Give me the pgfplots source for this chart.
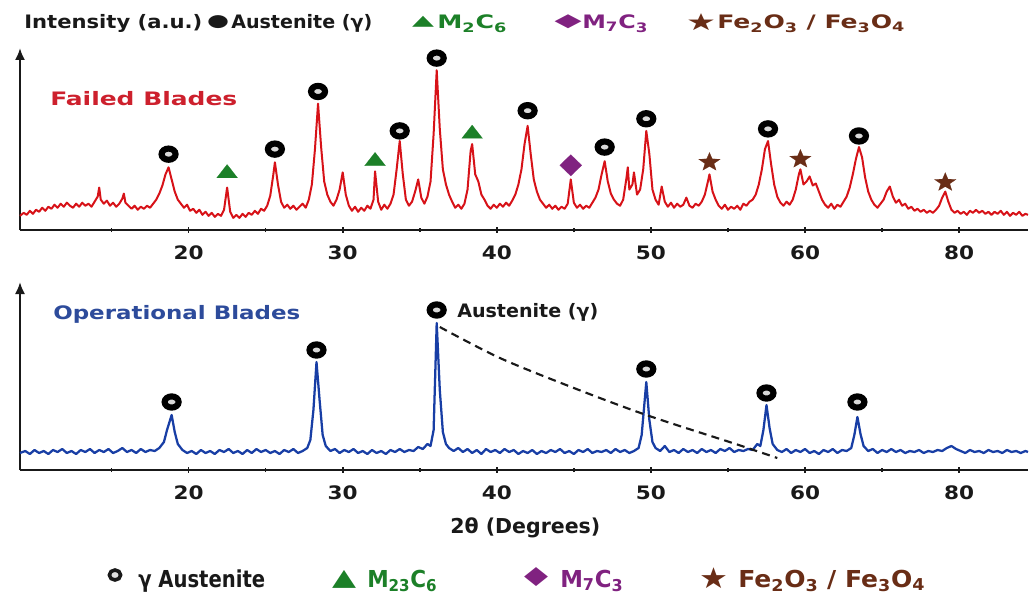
\documentclass[border=0pt]{standalone}
\usepackage{pgfplots}
\pgfplotsset{compat=1.18}
\usepackage{fontspec}
\setmainfont{DejaVu Sans}
\usetikzlibrary{arrows.meta}
\newlength\px \setlength\px{0.75pt}
\newcommand\fw[2]{\resizebox{#1\px}{\height}{#2}}
\newcommand\gl[3]{\resizebox*{#1\px}{#2\px}{#3}}
\newcommand\T{\fontsize{13.9pt}{16pt}\selectfont\bfseries}
\newcommand\TL{\fontsize{15.4pt}{18pt}\selectfont\bfseries}
\newcommand\TB{\fontsize{17.5pt}{20pt}\selectfont\bfseries}
\definecolor{cred}{RGB}{215,18,24}
\definecolor{cblue}{RGB}{24,62,165}
\definecolor{lred}{RGB}{205,32,45}
\definecolor{lblue}{RGB}{45,75,155}
\definecolor{cgreen}{RGB}{28,128,40}
\definecolor{cpurple}{RGB}{128,34,128}
\definecolor{cbrown}{RGB}{105,45,22}
\definecolor{ink}{RGB}{25,25,25}
\pgfdeclareplotmark{fstar}{%
  \pgfpathmoveto{\pgfpointpolar{90}{\pgfplotmarksize}}%
  \pgfpathlineto{\pgfpointpolar{126}{0.42\pgfplotmarksize}}%
  \pgfpathlineto{\pgfpointpolar{162}{\pgfplotmarksize}}%
  \pgfpathlineto{\pgfpointpolar{198}{0.42\pgfplotmarksize}}%
  \pgfpathlineto{\pgfpointpolar{234}{\pgfplotmarksize}}%
  \pgfpathlineto{\pgfpointpolar{270}{0.42\pgfplotmarksize}}%
  \pgfpathlineto{\pgfpointpolar{306}{\pgfplotmarksize}}%
  \pgfpathlineto{\pgfpointpolar{342}{0.42\pgfplotmarksize}}%
  \pgfpathlineto{\pgfpointpolar{18}{\pgfplotmarksize}}%
  \pgfpathlineto{\pgfpointpolar{54}{0.42\pgfplotmarksize}}%
  \pgfpathclose
  \pgfusepathqfillstroke
}
\pgfplotsset{
  xrd/.style={
    scale only axis, anchor=south west,
    width=756pt, xmin=9.06, xmax=74.47, ymin=0,
    axis x line=bottom, axis y line=left,
    x axis line style={-, line width=1.5pt, draw=ink},
    y axis line style={-{Latex[length=9pt,width=7.5pt]}, line width=1.5pt, draw=ink},
    xtick={20,30,40,50,60,70},
    xticklabels={\fw{30}{20},\fw{30}{30},\fw{30}{40},\fw{30}{50},\fw{30}{60},\fw{30}{80}},
    minor xtick={15,25,35,45,55,65},
    ytick=\empty,
    tick align=center, major tick length=4pt, minor tick length=3pt,
    every tick/.style={line width=1.2pt, ink},
    xticklabel style={font=\T, text=ink, anchor=center, yshift=-15pt, inner sep=0pt},
    clip=false,
  },
  ring/.style={only marks, mark=*, mark size=4.2pt,
    mark options={draw=black, fill=black!15, line width=4.6pt, xscale=1.25}},
  tri/.style={only marks, mark=triangle*, mark size=6.7pt,
    mark options={draw=cgreen, fill=cgreen, line width=0.1pt, xscale=1.35}},
  dia/.style={only marks, mark=diamond*, mark size=8pt,
    mark options={draw=cpurple, fill=cpurple, line width=0.1pt, xscale=1.375}},
  sta/.style={only marks, mark=fstar, mark size=7.4pt,
    mark options={draw=cbrown, fill=cbrown, line width=0.1pt, xscale=1.15}},
}
\begin{document}
\begin{tikzpicture}
\useasboundingbox (0,0) rectangle (772.5pt,445.5pt);
% ---------------- Failed blades ----------------
\begin{axis}[xrd, at={(15pt,273pt)}, height=136.5pt, ymax=180]
\addplot[cred, line width=1.5pt, line join=round] coordinates {
(9.06,14) (9.3,17) (9.5,15) (9.7,19) (9.9,16) (10.1,20) (10.3,18) (10.5,22) (10.7,19) (10.9,23)
(11.1,21) (11.3,25) (11.5,22) (11.7,26) (11.9,23) (12.1,27) (12.3,24) (12.5,22) (12.7,26) (12.9,23)
(13.1,27) (13.3,24) (13.5,26) (13.7,23) (13.9,28) (14.1,33) (14.2,42) (14.3,30) (14.5,26) (14.7,29)
(14.9,24) (15.1,27) (15.3,23) (15.5,26) (15.7,31) (15.8,36) (15.9,27) (16.1,24) (16.3,21) (16.5,24)
(16.7,20) (16.9,23) (17.1,21) (17.3,24) (17.5,22) (17.7,26) (17.9,30) (18.1,36) (18.3,44) (18.5,55)
(18.7,62) (18.9,50) (19.1,38) (19.3,30) (19.5,26) (19.7,22) (19.9,25) (20.1,19) (20.3,21) (20.5,17)
(20.7,20) (20.9,15) (21.1,18) (21.3,14) (21.5,17) (21.7,13) (21.9,16) (22.1,14) (22.3,20) (22.5,42)
(22.7,18) (22.9,12) (23.1,15) (23.3,12) (23.5,16) (23.7,13) (23.9,17) (24.1,15) (24.3,19) (24.5,16)
(24.7,21) (24.9,19) (25.1,24) (25.3,34) (25.5,55) (25.6,67) (25.8,45) (26.0,28) (26.2,22) (26.4,25)
(26.6,21) (26.8,24) (27.0,20) (27.2,23) (27.4,26) (27.6,22) (27.8,30) (28.0,45) (28.2,80) (28.4,125)
(28.6,82) (28.8,48) (29.0,35) (29.2,28) (29.4,24) (29.6,30) (29.8,40) (30.0,57) (30.2,35) (30.4,24)
(30.6,19) (30.8,23) (31.0,18) (31.2,22) (31.4,19) (31.6,24) (31.8,21) (32.0,30) (32.1,58) (32.3,28)
(32.5,20) (32.7,25) (32.9,21) (33.1,26) (33.3,35) (33.5,60) (33.7,88) (33.9,55) (34.1,30) (34.3,24)
(34.5,28) (34.7,38) (34.9,50) (35.1,32) (35.3,26) (35.5,33) (35.7,48) (35.9,95) (36.1,158) (36.3,100)
(36.5,60) (36.7,45) (36.9,35) (37.1,28) (37.3,22) (37.5,25) (37.7,21) (37.9,26) (38.1,40) (38.3,78)
(38.4,85) (38.6,55) (38.8,48) (39.0,35) (39.2,30) (39.4,24) (39.6,21) (39.8,25) (40.0,22) (40.2,26)
(40.4,23) (40.6,27) (40.8,24) (41.0,29) (41.2,35) (41.4,45) (41.6,60) (41.8,85) (42.0,103) (42.2,75)
(42.4,50) (42.6,38) (42.8,30) (43.0,26) (43.2,22) (43.4,25) (43.6,21) (43.8,24) (44.0,20) (44.2,23)
(44.4,21) (44.6,26) (44.8,50) (45.0,27) (45.2,22) (45.4,25) (45.6,21) (45.8,24) (46.0,22) (46.2,27)
(46.4,32) (46.6,40) (46.8,55) (47.0,68) (47.2,48) (47.4,36) (47.6,30) (47.8,26) (48.0,24) (48.2,30)
(48.4,50) (48.5,62) (48.6,40) (48.8,45) (48.9,57) (49.1,35) (49.3,40) (49.5,60) (49.7,98) (49.9,75)
(50.1,40) (50.3,30) (50.5,25) (50.7,43) (50.9,28) (51.1,23) (51.3,27) (51.5,22) (51.7,26) (51.9,23)
(52.1,25) (52.3,32) (52.5,24) (52.7,22) (52.9,26) (53.1,24) (53.3,28) (53.5,35) (53.7,48) (53.8,55)
(54.0,38) (54.2,30) (54.4,24) (54.6,21) (54.8,25) (55.0,20) (55.2,23) (55.4,21) (55.6,24) (55.8,20)
(56.0,26) (56.2,24) (56.4,28) (56.6,30) (56.8,35) (57.0,45) (57.2,60) (57.4,80) (57.6,88) (57.8,65)
(58.0,45) (58.2,33) (58.4,27) (58.6,24) (58.8,28) (59.0,25) (59.2,30) (59.4,40) (59.6,55) (59.7,60)
(59.9,45) (60.1,48) (60.3,53) (60.5,44) (60.7,46) (60.9,38) (61.1,30) (61.3,25) (61.5,22) (61.7,26)
(61.9,21) (62.1,25) (62.3,23) (62.5,28) (62.7,33) (62.9,42) (63.1,55) (63.3,70) (63.5,82) (63.7,72)
(63.9,52) (64.1,38) (64.3,30) (64.5,25) (64.7,22) (64.9,26) (65.1,30) (65.3,38) (65.5,43) (65.7,33)
(65.9,27) (66.1,30) (66.3,24) (66.5,26) (66.7,21) (66.9,23) (67.1,19) (67.3,21) (67.5,18) (67.7,20)
(67.9,17) (68.1,19) (68.3,17) (68.5,20) (68.7,24) (68.9,32) (69.1,38) (69.3,28) (69.5,20) (69.7,17)
(69.9,19) (70.1,16) (70.3,18) (70.5,15) (70.7,19) (70.9,17) (71.1,20) (71.3,17) (71.5,19) (71.7,16)
(71.9,18) (72.1,15) (72.3,18) (72.5,16) (72.7,19) (72.9,15) (73.1,18) (73.3,14) (73.5,17) (73.7,15)
(73.9,18) (74.1,14) (74.3,16) (74.47,15)
};
\addplot[ring] coordinates {(18.7,75) (25.6,80) (28.4,137) (33.7,98) (36.1,170) (42.0,118) (47.0,82) (49.7,110) (57.6,100) (63.5,93)};
\addplot[tri] coordinates {(22.5,56) (32.1,68) (38.4,95)};
\addplot[dia] coordinates {(44.8,64)};
\addplot[sta] coordinates {(53.8,67) (59.7,70) (69.1,47)};
\end{axis}
% ---------------- Operational blades ----------------
\begin{axis}[xrd, at={(15pt,93pt)}, height=141pt, ymax=188]
\addplot[cblue, line width=1.7pt, line join=round] coordinates {
(9.06,17) (9.4,19) (9.7,16) (10.0,20) (10.3,17) (10.6,19) (10.9,16) (11.2,20) (11.5,18) (11.8,21)
(12.1,17) (12.4,19) (12.7,16) (13.0,20) (13.3,18) (13.6,21) (13.9,17) (14.2,20) (14.5,18) (14.8,21)
(15.1,17) (15.4,19) (15.7,22) (16.0,18) (16.3,20) (16.6,17) (16.9,21) (17.2,18) (17.5,20) (17.8,19)
(18.1,22) (18.4,28) (18.6,40) (18.9,55) (19.1,38) (19.3,26) (19.6,20) (19.9,17) (20.2,19) (20.5,16)
(20.8,20) (21.1,17) (21.4,19) (21.7,16) (22.0,20) (22.3,18) (22.6,21) (22.9,17) (23.2,19) (23.5,16)
(23.8,20) (24.1,17) (24.4,21) (24.7,18) (25.0,20) (25.3,17) (25.6,19) (25.9,16) (26.2,20) (26.5,18)
(26.8,21) (27.1,17) (27.4,19) (27.7,22) (27.9,30) (28.1,60) (28.3,108) (28.5,70) (28.7,35) (28.9,24)
(29.2,19) (29.5,21) (29.8,17) (30.1,20) (30.4,18) (30.7,21) (31.0,17) (31.3,19) (31.6,16) (31.9,20)
(32.2,17) (32.5,19) (32.8,16) (33.1,20) (33.4,18) (33.7,21) (34.0,18) (34.3,20) (34.6,19) (34.9,23)
(35.2,21) (35.5,26) (35.7,24) (35.9,40) (36.1,147) (36.3,80) (36.5,38) (36.7,26) (36.9,22) (37.2,19)
(37.5,22) (37.8,18) (38.1,21) (38.4,17) (38.7,20) (39.0,16) (39.3,21) (39.6,18) (39.9,20) (40.2,17)
(40.5,21) (40.8,18) (41.1,20) (41.4,16) (41.7,19) (42.0,17) (42.3,20) (42.6,16) (42.9,19) (43.2,17)
(43.5,20) (43.8,18) (44.1,21) (44.4,17) (44.7,19) (45.0,16) (45.3,20) (45.6,18) (45.9,21) (46.2,17)
(46.5,19) (46.8,18) (47.1,20) (47.4,17) (47.7,21) (48.0,18) (48.3,20) (48.6,17) (48.9,19) (49.2,22)
(49.4,35) (49.7,88) (49.9,50) (50.1,28) (50.3,22) (50.6,19) (50.9,24) (51.2,18) (51.5,20) (51.8,17)
(52.1,21) (52.4,18) (52.7,20) (53.0,17) (53.3,21) (53.6,18) (53.9,20) (54.2,17) (54.5,21) (54.8,19)
(55.1,22) (55.4,18) (55.7,20) (56.0,19) (56.3,21) (56.6,20) (56.9,26) (57.1,24) (57.3,40) (57.5,65)
(57.7,42) (57.9,26) (58.2,20) (58.5,18) (58.8,21) (59.1,17) (59.4,20) (59.7,18) (60.0,21) (60.3,17)
(60.6,19) (60.9,16) (61.2,20) (61.5,18) (61.8,21) (62.1,17) (62.4,20) (62.7,19) (63.0,22) (63.2,35)
(63.4,53) (63.6,36) (63.8,24) (64.1,19) (64.4,21) (64.7,17) (65.0,20) (65.3,18) (65.6,21) (65.9,18)
(66.2,20) (66.5,17) (66.8,19) (67.1,18) (67.4,20) (67.7,17) (68.0,19) (68.3,18) (68.6,20) (68.9,19)
(69.2,22) (69.5,24) (69.8,21) (70.1,19) (70.4,17) (70.7,20) (71.0,18) (71.3,19) (71.6,17) (71.9,20)
(72.2,18) (72.5,19) (72.8,17) (73.1,20) (73.4,18) (73.7,19) (74.0,17) (74.3,19) (74.47,18)
};
\addplot[ink, line width=1.6pt, dash pattern=on 6pt off 4pt, smooth] coordinates {(36.3,143) (40.2,112) (45,82) (49.7,55) (55.3,27) (58.2,12)};
\addplot[ring] coordinates {(18.9,68) (28.3,120) (36.1,160) (49.7,101) (57.5,77) (63.4,68)};
\end{axis}
% ---------------- texts and legend keys (px coordinates) ----------------
\begin{scope}[x=0.75pt,y=-0.75pt,yshift=445.5pt]
\tikzset{every node/.style={inner sep=0pt}}
% top legend
\node[anchor=base west, text=ink] at (24,29) {\T\fw{178}{Intensity (a.u.)}};
\node[text=ink] at (218,22) {\gl{22}{13}{●}};
\node[anchor=base west, text=ink] at (231,29) {\T\fw{141}{Austenite (γ)}};
\node[text=cgreen] at (423,22) {\gl{22}{11}{▲}};
\node[anchor=base west, text=cgreen] at (437,29) {\T\fw{70}{M\textsubscript{2}C\textsubscript{6}}};
\node[text=cpurple] at (568,22) {\gl{27}{14}{◆}};
\node[anchor=base west, text=cpurple] at (582,29) {\T\fw{66}{M\textsubscript{7}C\textsubscript{3}}};
\node[text=cbrown] at (701,22) {\gl{30}{17}{★}};
\node[anchor=base west, text=cbrown] at (717,29) {\T\fw{188}{Fe\textsubscript{2}O\textsubscript{3} / Fe\textsubscript{3}O\textsubscript{4}}};
% panel labels
\node[anchor=base west, text=lred] at (50,105) {\T\fw{187}{Failed Blades}};
\node[anchor=base west, text=lblue] at (53,319) {\T\fw{247}{Operational Blades}};
\node[anchor=base west, text=ink] at (457,317) {\T\fw{141}{Austenite (γ)}};
\node[anchor=base west, text=ink] at (450,533) {\TL\fw{150}{2θ (Degrees)}};
% bottom legend
\node[draw=ink, fill=black!12, circle, line width=2.7pt, minimum size=7.5pt, xscale=1.12] at (115,575) {};
\node[anchor=base west, text=ink] at (138,587) {\TB\fw{127}{γ Austenite}};
\node[text=cgreen] at (344,579) {\gl{24}{18}{▲}};
\node[anchor=base west, text=cgreen] at (367,587) {\TB\fw{70}{M\textsubscript{23}C\textsubscript{6}}};
\node[text=cpurple] at (536,577) {\gl{24}{19}{◆}};
\node[anchor=base west, text=cpurple] at (560,587) {\TB\fw{63}{M\textsubscript{7}C\textsubscript{3}}};
\node[text=cbrown] at (714,578) {\gl{29}{21}{★}};
\node[anchor=base west, text=cbrown] at (738,587) {\TB\fw{187}{Fe\textsubscript{2}O\textsubscript{3} / Fe\textsubscript{3}O\textsubscript{4}}};
\end{scope}
\end{tikzpicture}
\end{document}
